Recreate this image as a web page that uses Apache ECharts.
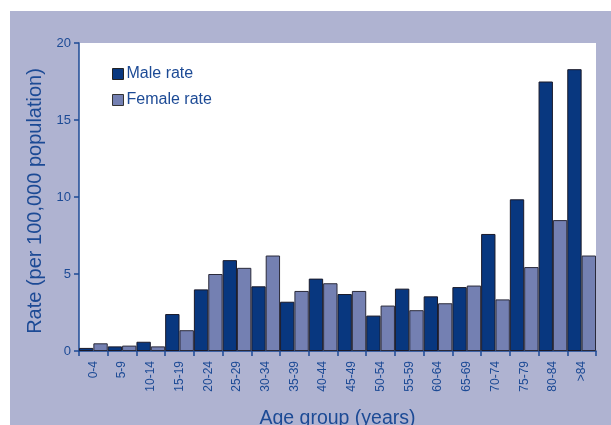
<!DOCTYPE html>
<html>
<head>
<meta charset="utf-8">
<script src="https://cdn.jsdelivr.net/npm/echarts@6/dist/echarts.min.js"></script>
<style>html,body{margin:0;padding:0;background:#fff;}#c{width:611px;height:425px;}</style>
</head>
<body>
<div id="c"></div>
<script>
const categories = ['0-4','5-9','10-14','15-19','20-24','25-29','30-34','35-39','40-44','45-49','50-54','55-59','60-64','65-69','70-74','75-79','80-84','>84'];
const maleRate = [0.2,0.3,0.6,2.4,4.0,5.9,4.2,3.2,4.7,3.7,2.3,4.05,3.55,4.15,7.6,9.85,17.5,18.3];
const femaleRate = [0.5,0.35,0.3,1.35,5.0,5.4,6.2,3.9,4.4,3.9,2.95,2.65,3.1,4.25,3.35,5.45,8.5,6.2];
const yTicks = [0,5,10,15,20];

const txt = '#1c4a95';
const ff = 'Liberation Sans, Arial, sans-serif';
const chart = echarts.init(document.getElementById('c'), null, {renderer:'canvas'});
chart.setOption({
  animation:false,
  backgroundColor:'#ffffff',
  graphic:[{type:'rect', z:-10, shape:{x:10,y:11,width:601,height:414}, style:{fill:'#afb3d1'}, silent:true}],
  textStyle:{fontFamily:ff},
  grid:{left:79, top:43, width:517, height:308, show:true, backgroundColor:'#ffffff', borderWidth:0, containLabel:false, outerBoundsMode:'none'},
  legend:{
    show:true, orient:'vertical', left:112, top:66, padding:0, itemWidth:11, itemHeight:11, itemGap:10,
    icon:'rect',
    textStyle:{color:txt, fontSize:16, lineHeight:16, fontFamily:ff, padding:[0,0,0,-2]},
    data:[{name:'Male rate', itemStyle:{borderColor:'#222', borderWidth:1}},{name:'Female rate', itemStyle:{borderColor:'#333', borderWidth:1}}]
  },
  xAxis:{
    type:'category', data:categories, boundaryGap:true,
    name:'Age group (years)', nameLocation:'middle', nameGap:58,
    nameTextStyle:{color:txt, fontSize:19.5, fontFamily:ff},
    axisLine:{lineStyle:{color:txt, width:1.5}},
    axisTick:{show:true, alignWithLabel:false, length:5, lineStyle:{color:txt, width:1.5}},
    axisLabel:{rotate:90, color:txt, fontSize:12, margin:10, interval:0}
  },
  yAxis:{
    type:'value', min:0, max:20, interval:5,
    name:'Rate (per 100,000 population)', nameLocation:'middle', nameGap:26,
    nameTextStyle:{color:txt, fontSize:20, fontFamily:ff, padding:[0,8,0,0]},
    axisLine:{show:true, lineStyle:{color:txt, width:1.5}},
    axisTick:{show:true, length:5, lineStyle:{color:txt, width:1.5}},
    axisLabel:{color:txt, fontSize:13, margin:8, formatter:(v)=>yTicks.includes(v)?String(v):''},
    splitLine:{show:false}
  },
  series:[
    {name:'Male rate', type:'bar', data:maleRate, barGap:'0%', barCategoryGap:'0%',
     itemStyle:{color:'#08377f', borderColor:'#1a1a2a', borderWidth:1, borderRadius:0}},
    {name:'Female rate', type:'bar', data:femaleRate, barGap:'0%', barCategoryGap:'0%',
     itemStyle:{color:'#7480b2', borderColor:'#2a2a3a', borderWidth:1, borderRadius:0}}
  ]
});
</script>
</body>
</html>
